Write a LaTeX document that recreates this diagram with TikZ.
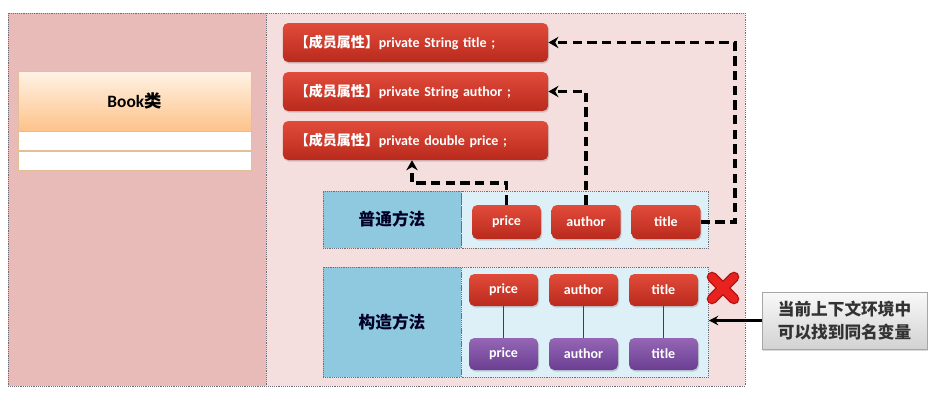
\documentclass[tikz,border=0pt]{standalone}
\usepackage{fontspec}
\setmainfont{Carlito}
\newfontfamily\cjk{Noto Sans CJK SC}
\usetikzlibrary{arrows.meta,calc,positioning,shadows}

\definecolor{leftpink}{HTML}{E8BBB9}
\definecolor{rightpink}{HTML}{F5DEDE}
\definecolor{redtop}{HTML}{E24B3A}
\definecolor{redbot}{HTML}{B92A1D}
\definecolor{purtop}{HTML}{9466B5}
\definecolor{purbot}{HTML}{6C3E92}
\definecolor{labelblue}{HTML}{8FC9E0}
\definecolor{bodyblue}{HTML}{DDEFF7}
\definecolor{booktop}{HTML}{FFF3E6}
\definecolor{bookbot}{HTML}{FDC28A}
\definecolor{bookline}{HTML}{E3BE96}
\definecolor{panelline}{HTML}{6E6E78}
\definecolor{crossred}{HTML}{E8231F}
\definecolor{crossdark}{HTML}{B31412}

\newcommand{\zh}[1]{{\cjk #1}}

\tikzset{
	redbox/.style={rounded corners=4pt, top color=redtop, bottom color=redbot, text=white,
		font=\bfseries\fontsize{10.5}{12}\selectfont,
		drop shadow={shadow xshift=0.8pt, shadow yshift=-1.2pt, opacity=0.3}},
	attr/.style={redbox, minimum width=198.75pt, minimum height=29.25pt, text width=181pt,
		align=left, inner xsep=9pt},
	mbtn/.style={redbox, minimum width=51.75pt, minimum height=25.5pt, inner sep=0pt},
	cbtn/.style={redbox, minimum width=51.75pt, minimum height=24pt, inner sep=0pt},
	pbtn/.style={cbtn, top color=purtop, bottom color=purbot},
	plabel/.style={draw=panelline, densely dotted, fill=labelblue, minimum width=103.5pt,
		inner sep=0pt, text=black!85!blue, font=\bfseries\fontsize{12.5}{15}\selectfont},
	pbody/.style={draw=panelline, densely dotted, fill=bodyblue, minimum width=185.25pt, inner sep=0pt},
	bookhead/.style={draw=bookline, top color=booktop, bottom color=bookbot, minimum width=174.75pt,
		minimum height=45pt, inner sep=0pt, font=\bfseries\fontsize{13}{15}\selectfont,
		drop shadow={shadow xshift=0.8pt, shadow yshift=-1.2pt, opacity=0.25}},
	bookrow/.style={draw=bookline, fill=white, minimum width=174.75pt, minimum height=14.25pt, inner sep=0pt},
	dasharrow/.style={line width=2.8pt, dash pattern=on 7pt off 4pt, -{Stealth[length=7.5pt,width=8.5pt]}},
	note/.style={draw=gray!70, top color=gray!5, bottom color=gray!35, minimum width=123.75pt,
		minimum height=42.75pt, align=center, font=\cjk\bfseries\fontsize{12.5}{17}\selectfont,
		text=black!80, drop shadow={shadow xshift=1pt, shadow yshift=-1.5pt, opacity=0.3}}
}

\begin{document}
\begin{tikzpicture}[x=0.75pt,y=-0.75pt]
	\useasboundingbox (0,0) rectangle (937,400);
	% two halves
	\draw[panelline, densely dotted, fill=leftpink] (8,13) rectangle (266,386);
	\draw[panelline, densely dotted, fill=rightpink] (266,13) rectangle (745,386);

	% class box
	\node[bookhead] (book) at (134.5,101) {Book\zh{类}};
	\node[bookrow, below=0pt of book] (row1) {};
	\node[bookrow, below=0pt of row1] (row2) {};

	% member fields
	\node[attr] (atitle) at (415.5,42.5) {\zh{【成员属性】}private String title ;};
	\node[attr] (aauthor) at (415.5,91.5) {\zh{【成员属性】}private String author ;};
	\node[attr] (aprice) at (415.5,140.5) {\zh{【成员属性】}private double price ;};

	% methods
	\node[plabel, minimum height=42.75pt] (nlabel) at (392,219.5) {\zh{普通方法}};
	\node[pbody, minimum height=42.75pt, right=0pt of nlabel] (nbody) {};
	\node[plabel, minimum height=82.5pt] (clabel) at (392,322) {\zh{构造方法}};
	\node[pbody, minimum height=82.5pt, right=0pt of clabel] (cbody) {};

	\node[mbtn] (mprice) at (506.5,222) {price};
	\node[mbtn] (mauthor) at (586,222) {author};
	\node[mbtn] (mtitle) at (666,222) {title};

	\node[cbtn] (cprice) at (503.5,290) {price};
	\node[cbtn] (cauthor) at (583.5,290) {author};
	\node[cbtn] (ctitle) at (663.5,290) {title};
	\node[pbtn] (pprice) at (503.5,354) {price};
	\node[pbtn] (pauthor) at (583.5,354) {author};
	\node[pbtn] (ptitle) at (663.5,354) {title};

	\path[draw=black!75, thin]
	(cprice) edge (pprice)
	(cauthor) edge (pauthor)
	(ctitle) edge (ptitle);

	% references to the fields
	\coordinate (turnT) at (735,42.5);
	\coordinate (turnP) at (412,183);
	\draw[dasharrow] (mtitle.east) -| (turnT) -- (atitle.east);
	\draw[dasharrow] (mauthor.north) |- (aauthor.east);
	\draw[dasharrow] (mprice.north) |- (turnP) -- (turnP |- aprice.south);

	% cross mark
	\draw[crossdark, line width=8pt, line cap=round] (712,277) -- (734,299) (734,277) -- (712,299);
	\draw[crossred, line width=6pt, line cap=round] (712,277) -- (734,299) (734,277) -- (712,299);

	% note
	\node[note] (note) at (844.5,320.5) {当前上下文环境中\\可以找到同名变量};
	\draw[-{Stealth[length=7pt,width=7pt]}, line width=2pt] (note.west) -- (note.west -| cbody.east);
\end{tikzpicture}
\end{document}
